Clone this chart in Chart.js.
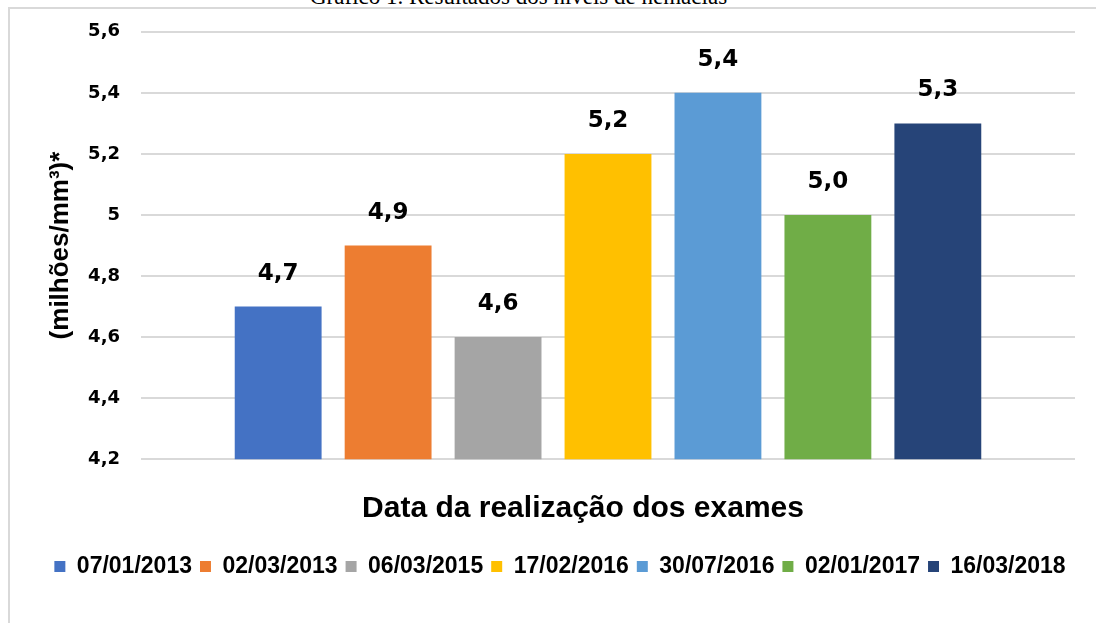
<!DOCTYPE html>
<html>
<head>
<meta charset="utf-8">
<script src="https://cdn.jsdelivr.net/npm/chart.js@4"></script>
<style>
  html, body { margin: 0; padding: 0; background: #fff; overflow: hidden; }
  #frame { position: absolute; left: 8px; top: 7px; right: -10px; bottom: -10px;
           border-left: 2px solid #D9D9D9; border-top: 2px solid #D9D9D9; }
  #caption { position: absolute; left: 310px; top: -15px; font: 23px "Liberation Serif", serif;
             line-height: 23px; color: #000; white-space: nowrap; }
  #plot { position: absolute; left: 0; top: 0; }
</style>
</head>
<body>
<div id="frame"></div>
<div id="caption">Gráfico 1. Resultados dos níveis de hemácias</div>
<canvas id="plot" width="1096" height="623"></canvas>
<script>
// exam dates (one series each, like the original sheet)
const examDates = ['07/01/2013', '02/03/2013', '06/03/2015', '17/02/2016', '30/07/2016', '02/01/2017', '16/03/2018'];
const redCells = [4.7, 4.9, 4.6, 5.2, 5.4, 5.0, 5.3];
const barColors = ['#4472C4', '#ED7D31', '#A5A5A5', '#FFC000', '#5B9BD5', '#70AD47', '#264478'];
const yTicks = [4.2, 4.4, 4.6, 4.8, 5, 5.2, 5.4, 5.6];

const fmt = v => {
  const r = Math.round(v * 10) / 10;
  return Number.isInteger(r) ? String(r) : r.toFixed(1).replace('.', ',');
};

// value labels above each bar
const barLabels = {
  id: 'barLabels',
  afterDatasetsDraw(chart) {
    const ctx = chart.ctx;
    ctx.save();
    ctx.font = 'bold 23px "DejaVu Sans", sans-serif';
    ctx.fillStyle = '#000';
    ctx.textAlign = 'center';
    ctx.textBaseline = 'alphabetic';
    chart.data.datasets.forEach((ds, i) => {
      const bar = chart.getDatasetMeta(i).data[0];
      ctx.fillText(ds.data[0].toFixed(1).replace('.', ','), bar.x, bar.y - 27);
    });
    ctx.restore();
  }
};

const ctx = document.getElementById('plot').getContext('2d');
const chart = new Chart(ctx, {
  type: 'bar',
  data: {
    labels: [''],
    datasets: examDates.map((d, i) => ({
      label: d,
      data: [redCells[i]],
      backgroundColor: barColors[i],
      borderWidth: 0
    }))
  },
  options: {
    responsive: false,
    animation: false,
    categoryPercentage: 0.824,
    barPercentage: 0.79,
    layout: { padding: { left: 45, right: 21, top: 22, bottom: 35 } },
    plugins: {
      tooltip: { enabled: false },
      legend: {
        position: 'bottom',
        labels: {
          boxWidth: 11,
          boxHeight: 11,
          padding: 8,
          color: '#000',
          font: { family: '"Liberation Sans", Arial, sans-serif', size: 23, weight: 'bold' }
        }
      }
    },
    scales: {
      x: {
        grid: { display: false },
        border: { display: false },
        ticks: { display: false },
        title: {
          display: true,
          text: 'Data da realização dos exames\u00A0\u00A0\u00A0\u00A0\u00A0\u00A0',
          color: '#000',
          font: { family: '"Liberation Sans", Arial, sans-serif', size: 30, weight: 'bold' },
          padding: { top: 23.5, bottom: 20.3 }
        }
      },
      y: {
        min: 4.2,
        max: 5.6,
        afterBuildTicks(scale) { scale.ticks = yTicks.map(v => ({ value: v })); },
        afterFit(scale) { scale.width = 96; },
        grid: { color: '#D9D9D9', lineWidth: 2, drawTicks: false },
        border: { display: false },
        ticks: {
          padding: 21,
          color: '#000',
          font: { family: '"DejaVu Sans", sans-serif', size: 18, weight: 'bold' },
          callback: v => fmt(v)
        },
        title: {
          display: true,
          text: '(milhões/mm³)*',
          color: '#000',
          font: { family: '"Liberation Sans", Arial, sans-serif', size: 26, weight: 'bold' },
          padding: { top: 0, bottom: 0 }
        }
      }
    }
  },
  plugins: [barLabels]
});
</script>
</body>
</html>
